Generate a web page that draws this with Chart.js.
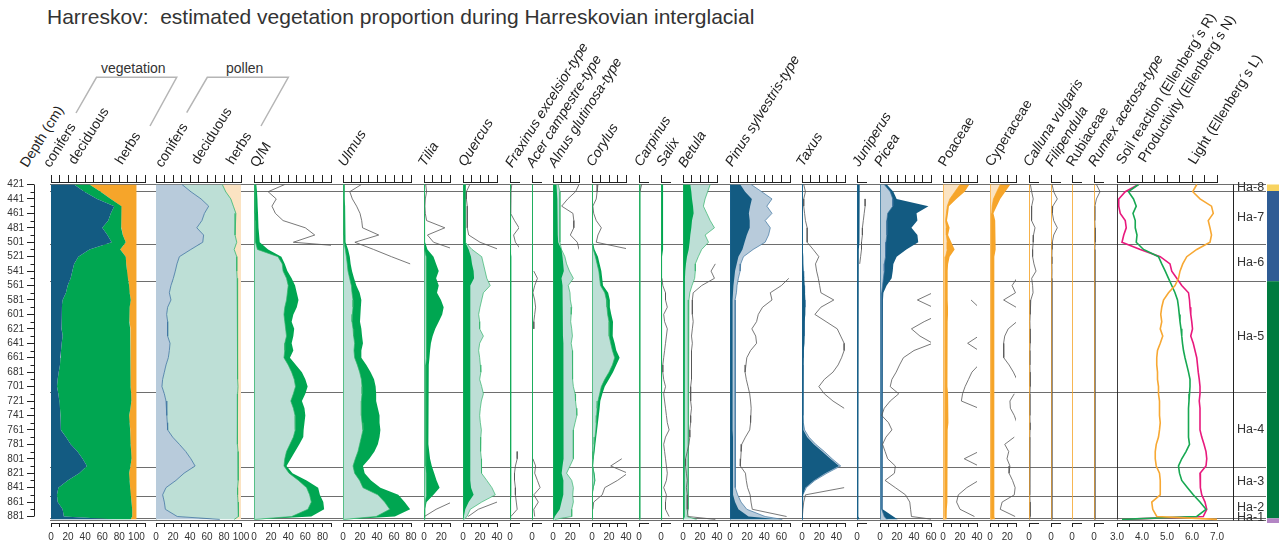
<!DOCTYPE html>
<html lang="en">
<head>
<meta charset="utf-8">
<title>Harreskov vegetation proportion</title>
<script src="https://cdn.jsdelivr.net/npm/chart.js@4.4.1/dist/chart.umd.min.js"></script>
<style>
  html, body { margin:0; padding:0; background:#fff; overflow:hidden; }
  #wrap { position:relative; width:1279px; height:545px; overflow:hidden;
          font-family:"Liberation Sans", Arial, Helvetica, sans-serif; color:#333; }
  #wrap canvas { position:absolute; }
  #title { position:absolute; left:47px; top:6px; font-size:21px; line-height:21px; white-space:pre; color:#333; }
  .hdr { position:absolute; font-size:14px; line-height:14px; white-space:nowrap; color:#222; transform-origin:0 0; }
  .it { font-style:italic; }
  .grp { position:absolute; font-size:14px; line-height:14px; color:#333; white-space:nowrap; }
  #brackets { position:absolute; left:0; top:0; }
</style>
</head>
<body>
<div id="wrap">
  <div id="title">Harreskov:  estimated vegetation proportion during Harreskovian interglacial</div>
  <svg id="brackets" width="300" height="140">
    <polyline points="76,113 96.5,77.3 176.7,77.3 150,126" fill="none" stroke="#b5b5b5" stroke-width="1.5"/>
    <polyline points="186.7,112.7 207.3,77.3 288.3,77.3 261,126" fill="none" stroke="#b5b5b5" stroke-width="1.5"/>
  </svg>
  <div class="grp" style="left:101px;top:61px">vegetation</div>
  <div class="grp" style="left:226px;top:61px">pollen</div>
</div>
<script>
// ---------------------------------------------------------------------------
// Sample depths (cm) and zonation
// ---------------------------------------------------------------------------
const DEPTH = [421,431,441,451,461,471,481,491,501,511,521,531,541,551,561,571,581,591,601,611,
               621,631,641,651,661,671,681,691,701,711,721,731,741,751,761,771,781,791,801,811,
               821,831,841,851,861,871,881,885];
const DEPTH_TICKS_MAJOR = [421,441,461,481,501,521,541,561,581,601,621,641,661,681,701,721,741,761,781,801,821,841,861,881];
const DEPTH_TICKS_MINOR = [431,451,471,491,511,531,551,571,591,611,631,651,671,691,711,731,751,771,791,811,831,851,871];
const ZONE_BOUNDS = [421, 430, 504, 555, 709, 813, 853, 883.5, 886.5];
const ZONE_NAMES  = ['Ha-8','Ha-7','Ha-6','Ha-5','Ha-4','Ha-3','Ha-2','Ha-1'];
const ZONE_LABEL_DEPTH = [425.5, 467, 529.5, 632, 761, 833, 868, 883];
const ZONE_BAR = [[421,430,'#f8d360'],[430,555,'#2f5c94'],[555,883.5,'#007b40'],[883.5,890,'#b385c4']];
const N = null;

// ---------------------------------------------------------------------------
// Estimated vegetation proportion (%)
// ---------------------------------------------------------------------------
const vegConifers = [27,39,54,74,70,67,60,66,71,45, 32,27,25,23,19.5,17.5,13.6,12.8,12.5,12,
  12.5,13.6,12.5,11.7,11,10.5,9,7.8,7,8.6, 9.7,10.5,11,11.3,11.7,17.5,23,31,37,42,
  33,19.5,8.6,7,7.8,13.6,15,78];
const vegDeciduous = [18,19,16,8.5,12,15,22.5,18,16.5,36, 55.5,61,64,67,71.9,74.5,79.8,79.2,78.9,80,
  80.1,79,80.1,81.3,82.4,82.9,84.4,85.6,86.4,85.2, 84.3,82.5,80.4,80.7,80.9,75.5,70.4,62.8,57.2,51,
  58.4,72.5,84,86.4,86.4,81.4,80,15];
const vegHerbs = [55,42,30,17.5,18,18,17.5,16,12.5,19, 12.5,12,11,10,8.6,8,6.6,8,8.6,8,
  7.4,7.4,7.4,7,6.6,6.6,6.6,6.6,6.6,6.2, 6,7,8.6,8,7.4,7,6.6,6.2,5.8,7,
  8.6,8,7.4,6.6,5.8,5,5,7];

// Pollen proportion (%)
const polConifers = [30.6,41,53,62,57,54,48,56,55,41, 27.5,24.7,22.7,20.4,17.6,15.7,17.6,13.7,12.5,13.7,
  13.7,13.7,16.5,15.7,14.5,11.8,9.8,7.8,7,9.8, 11.8,12.5,12.9,13.3,13.7,19.6,27.5,35,41,46,
  33,23.5,11.8,7.8,9.8,11,25,75];
const polDeciduous = [47.4,41,35,29,37,39,45,37,40,51, 67.5,70.3,72.3,75.1,78.4,80.3,78.4,82.3,83.5,82.3,
  82.3,82.3,79.5,80.3,81.5,84.2,86.2,88.2,89.5,86.2, 84.2,83,82.6,82.2,82.3,76.4,68.5,61.5,56,51,
  63.5,73,84.2,88.2,86.7,86,72,17];
const polHerbs = [22,18,12,9,6,7,7,7,5,8, 5,5,5,4.5,4,4,4,4,4,4,
  4,4,4,4,4,4,4,4,3.5,4, 4,4.5,4.5,4.5,4,4,4,3.5,3,3,
  3.5,3.5,4,4,3.5,3,3,8];

// ---------------------------------------------------------------------------
// Taxa: vegetation estimate (veg), pollen (pol), exaggerated curve (x)
// ---------------------------------------------------------------------------
const qmVeg = [2.7,3.5,4,4.3,4.7,5,5.5,6,6.7,16.5, 32,36,39,44,48,50,52,50,46,44,
  47,46,44,46,42,49,56,60,62.7,60, 56,59,60,59,58,57.6,53,48,43,38,
  45,61.5,75,77,81,82,67,2];
const qmPol = [1,1,1,1,1,1.2,1.5,1.8,2,4, 28,33,34,38,40,39,38,36,35,36,
  37,38,36,36,35,40,44,47,48.5,46, 43,46,48,48.5,48,46,42,38,36,35,
  41,52,61.5,65,67,63,44,1];
const qmX = [36,16.5,26,21,25,34,60,71,46,150, N,N,N,N,N,N,N,N,N,N,
  N,N,N,N,N,N,N,N,N,N, N,N,N,N,N,N,N,N,N,N, N,N,N,N,N,N,N,N];

const ulVeg = [2,2,2,2.5,2.5,3,3,3,3.5,6, 8,9,10.6,13,15.7,19.6,21.6,21,20,20,
  21.6,22.4,23.5,21.6,21.6,27.5,32.5,36.5,38.4,39, 39,41,43,43,44,43,41,37,31,23.5,
  25.5,33,44,65,72.5,79,61,2];
const ulPol = [0.8,0.8,0.8,0.8,0.8,0.8,1,1,1.2,2.7, 4,5,5.9,7.8,9.8,10.6,11.8,11.8,11,10.6,
  11.8,12.5,13.7,12.9,13.7,16.9,19.6,21.6,22.4,22.4, 21.6,21.6,21.6,22.4,23.5,21.6,19.6,17.6,14.5,11.8,
  13.7,19.6,23.5,41,49,55,39,1];
const ulX = [21.6,8,11,16,20,22,23,42,14,36, 57,79,N,N,N,N,N,N,N,N,
  N,N,N,N,N,N,N,N,N,N, N,N,N,N,N,N,N,N,N,N, N,N,N,N,N,N,N,N];

const tiVeg = [1.2,1.2,1.2,1.2,1.2,1.2,1.2,1.5,1.5,4, 11,14,17,14,17,15,19.6,22.7,21,17,
  13,10,8,7,6.3,5.5,5,5,5,5, 5,5,5,5,5.2,5.2,5.5,6,7,9,
  11.8,14.5,18,11,3,1.2,1.2,0.5];
const tiPol = [0.5,0.5,0.5,0.5,0.5,0.5,0.5,0.5,0.5,1, 2.5,3,3,3,3,3,3,3,3,3,
  3,3,2.5,2.5,2.5,2,2,2,2,2, 2,2,2,2,2,2,2,2,2,2,
  2.5,3,3,2.5,1.5,1,1,0.5];
const tiX = [2,3,1.5,1,1.5,3,24,4,11,35, N,N,N,N,N,N,N,N,N,N,
  N,N,N,N,N,N,N,N,N,N, N,N,N,N,N,N,N,N,N,N, N,N,N,N,32,14,0.5,N];

const quVeg = [2.7,2.7,2.7,2.7,2.7,2.7,2.7,3,3,6.7, 9.4,10.6,12.5,13,8.6,9,8.6,8.5,8.5,8.5,
  8.5,9,8.5,8.5,8.5,8.5,8.5,8.5,8.5,9, 8.5,8.5,8.5,8.5,8.5,8.5,8.5,8.5,8.5,8.5,
  8.5,9,9.5,12.5,6.7,2.7,1,0.5];
const quPol = [2.7,2.7,2.7,2.7,2.7,2.7,2.7,3,3,10.6, 22,24,26,28,32,24,22,20,18.4,19.6,
  19.6,24,19.6,18.4,19.6,20.4,21,19.6,22,24, 21.6,20.4,19.6,20.4,21.6,21,20.4,21,21.6,21.6,
  22,28,34,38,22,8.6,4.7,1];
const quX = [8,4,4,5,5,5,5,6.7,20,42, N,N,N,N,N,N,N,N,N,N,
  N,N,N,N,N,N,N,N,N,N, N,N,N,N,N,N,N,N,N,N, N,N,N,N,40,18,6,N];

const frVeg = [0.5,0.5,0.5,0.5,0.5,0.5,0.5,0.5,0.5,1, 1.5,1.5,1.8,2,1.8,1.5,1.5,1.5,1.5,1.5,
  1.5,1.5,1.5,1.5,1.5,1.5,1.5,1.5,1.5,1.2, 1.2,1.2,1.2,1.2,1.2,1.2,1.2,1.2,1.2,1.2,
  1.2,1.2,1.2,1.2,1,0.8,0.5,0.3];
const frPol = [0.3,0.3,0.3,0.3,0.3,0.3,0.3,0.3,0.3,0.5, 0.8,0.8,1,1,1,0.8,0.8,0.8,0.8,0.8,
  0.8,0.8,0.8,0.8,0.8,0.8,0.8,0.8,0.8,0.6, 0.6,0.6,0.6,0.6,0.6,0.6,0.6,0.6,0.6,0.6,
  0.6,0.6,0.6,0.6,0.5,0.4,0.3,0.2];
const frX = [2,1,0.5,0.5,1,5,10,4,6,12, N,N,N,N,N,N,N,N,N,N,
  N,N,N,N,N,N,N,N,N,N, N,N,N,N,N,N,N,8,8,6, 5,5,6,6,7,8,1,N];

const acVeg = [0.5,0.5,0.5,0.5,0.5,0.5,0.5,0.5,0.5,0.5, 0.8,0.8,0.8,0.8,0.8,0.8,0.8,0.8,0.8,0.8,
  0.8,0.8,0.8,0.8,0.8,0.8,0.8,0.8,0.8,0.8, 0.8,0.8,0.8,0.8,0.8,0.8,0.8,0.8,0.8,0.8,
  0.8,0.8,0.8,0.8,0.8,0.8,0.5,0.3];
const acPol = [0.3,0.3,0.3,0.3,0.3,0.3,0.3,0.3,0.3,0.3, 0.4,0.4,0.4,0.4,0.4,0.4,0.4,0.4,0.4,0.4,
  0.4,0.4,0.4,0.4,0.4,0.4,0.4,0.4,0.4,0.4, 0.4,0.4,0.4,0.4,0.4,0.4,0.4,0.4,0.4,0.4,
  0.4,0.4,0.4,0.4,0.4,0.4,0.3,0.2];
const acX = [N,N,N,N,N,N,N,N,N,N, N,N,2,6,3,1,3,4,3,2,
  2,N,N,N,N,N,N,N,N,N, N,N,N,N,N,N,N,N,1,4, 3,6,9,2,7,2,3,N];

const alVeg = [4,4.5,5,5.5,5.5,5.5,5.5,5.5,6,9.8, 11,11.8,12.5,9.8,11,11.5,11.5,11.5,11.5,11.5,
  11.5,11.5,12,12,12,12,12,12,12,12, 12.5,12.5,12.5,12.5,12.5,12.5,12,12,12,11,
  10,12,12,11.8,9.8,7.8,2,1];
const alPol = [6,8,8,8,8,8,8,8,8,9.8, 13.7,15.7,19,23.5,17.6,19.6,20,21.6,21,20.4,
  21.6,22.4,21,22.4,22,23,23,22.4,23.5,25.5, 26,27,27.5,25.5,23.5,23.5,23.5,23.5,23.5,19.6,
  15.7,21.6,23.5,22.8,23.5,21.6,21.6,2];
const alX = [30,26,17,10,23,24,24,20,28,30, N,N,N,N,N,N,N,N,N,N,
  N,N,N,N,N,N,N,N,N,N, N,N,N,N,N,N,N,N,N,N, N,N,N,N,N,N,N,N];

const coVeg = [1,1,1,1,1,1,1,1,1,3, 7,9,11,12,13,19,21,21,22.7,24.7,
  24,24.7,26.7,28.6,32.5,28.6,24.7,20,15,12.2, 9.8,9,8,7,6,5,4,3.1,2,1.2,
  3,4,2,0.5,0.5,0.5,0.5,0.3];
const coPol = [0.5,0.5,0.5,0.5,0.5,0.5,0.5,0.5,0.5,1.5, 4,6,8,9,10,15,17,17.6,18.4,20,
  20,20.4,22,24,26.7,24,20,15,11,9, 7,6,5.5,5,4.5,3.5,2.5,2,1.2,0.8,
  2,3,1.5,0.3,0.3,0.3,0.3,0.2];
const coX = [7,6,5,1,2,5,11,7,5,45, N,N,N,N,N,N,N,N,N,N,
  N,N,N,N,N,N,N,N,N,N, N,N,N,N,N,N,N,N,35,22, 42,30,15,12,2,1,N,N];

const caVeg = [0.3,0.3,0.3,0.3,0.3,0.3,0.3,0.3,0.3,0.3, 0.3,0.3,0.3,0.3,0.3,0.3,0.3,0.3,0.3,0.3,
  0.3,0.3,0.3,0.3,0.3,0.3,0.3,0.3,0.3,0.3, 0.3,0.3,0.3,0.3,0.3,0.3,0.3,0.3,0.3,0.3,
  0.3,0.3,0.3,0.3,0.3,0.3,0.3,0.3];
const caPol = [1,1,1,1,1,1,1,1,1,1, 1,1,1,1,1,1,1,1,1,1,
  1,1,1,1,1,1,1,1,1,1, 1,1,1,1,1,1,1,1,1,1,
  1,1,1,1,1,1,1,1];
const caX = [3,1,N,N,N,N,N,N,N,N, N,N,N,N,N,N,N,N,N,N,
  N,N,N,N,N,N,N,N,N,N, N,N,N,N,N,N,N,N,N,N, N,N,N,N,N,N,N,N];

const saVeg = [2.3,2.3,2.3,2.3,2.3,2.3,2.3,2.3,2.3,2.3, 1.2,1.2,1.2,1.2,1.2,1.2,1.2,1.2,1.2,1.2,
  1.2,1.2,1.2,1.2,1.2,1.2,1.2,1.2,1.2,1.2, 1.2,1.2,1.2,1.2,1.2,1.2,1.2,1.2,1.2,1.2,
  1.2,1.2,1.2,1.2,1.2,1.2,1.2,2];
const saPol = [0.5,0.5,0.5,0.5,0.5,0.5,0.5,0.5,0.5,0.5, 0.5,0.5,0.5,0.5,0.5,0.5,0.5,0.5,0.5,0.5,
  0.5,0.5,0.5,0.5,0.5,0.5,0.5,0.5,0.5,0.5, 0.5,0.5,0.5,0.5,0.5,0.5,0.5,0.5,0.5,0.5,
  0.5,0.5,0.5,0.5,0.5,0.5,0.5,0.5];
const saX = [N,N,N,N,N,N,N,N,N,N, N,N,N,1,2,5,5,7,3,4,
  7,6,5,4,3,2,2,3,5,3, 4,5,6,7,9,5,3,4,5,6, 7,6,3,6,5,5,9,N];

const beVeg = [8.6,9.8,10.6,11.8,12.5,10.6,9.8,8.6,7.8,6.7, 4.7,3.5,2.7,2.3,2,2,2,2,2,2,
  2,2,2,2,2,2,2,2,2,2, 2,2,2,2,2,2,2,2,2,2,
  2,2,2,2,2,2,2,1];
const bePol = [32,29,26,24,28,32,37,26,30,22, 18,14.5,14.5,13.7,10.6,8,7,6.5,6.5,6.5,
  6.5,6.5,6.5,6.5,6.5,6.5,6.5,6.5,6,6, 6,6,6,6,6,6,6,6,6,6,
  6,6,6,6,6,6,4.7,16];
const beX = [N,N,N,N,N,N,N,N,N,N, N,38,33,37,22,12,11,11,11,12,
  11,10,11,10,10,10,10,10,9,9, 9,10,9,9,8,8,7,5,3,3,
  4,5,4,5,5,5,6,38];

const piVeg = [12,17.6,25.5,23.5,22,23,23,19.6,17,14.5, 9.8,7.8,5.9,5,4,3.5,3,3,3,3,
  3,3,3,3,3,3,3,3,3,3, 3,3,3,3,3,3.5,3.5,3.5,3.5,3.5,
  3.5,3.5,3.5,4,5.9,9.8,21.6,61];
const piPol = [24.7,37,49,43,49,41,47,45,41,27, 15.7,12.5,11.8,9.8,8.2,7.5,5.9,5.9,5.9,5.9,
  5.9,5.9,5.9,5.9,5.9,5.9,5.9,5.9,5.9,5.9, 5.9,5.9,5.9,5.9,5.9,6.7,6.7,6.7,6.7,6.7,
  6.7,6.7,6.7,9,12.9,19.6,41,61];
const piX = [N,N,N,N,N,N,N,N,N,N, N,N,N,68.6,60,47,49,38,33,31,
  25.5,30,31,24,19.6,18.6,17.6,19,21,23, 24,24.7,24.3,24,23,18,13.7,13,12.5,12,
  18,19,20.5,23.5,24.5,26,66,N];

const txVeg = [1,1,1,1,1,1,1,1,1,1, 1.5,1.5,2,2.5,3,3.5,4,4,3.5,3,
  3,3,2.5,2,2,1.5,1.5,1.5,1.5,1.5, 1.5,1.5,1.5,1.5,2,5.9,13.7,23.5,33,43,
  27,13.7,3.9,1.2,0.8,0.8,0.8,0.5];
const txPol = [0.5,0.5,0.5,0.5,0.5,0.5,0.5,0.5,0.5,0.5, 1,1,1.5,2,2.5,3,3.5,3.5,3,2.5,
  2.5,2.5,2,1.5,1.5,1,1,1,1,1, 1,1,1,1.5,3,8,16,26,35,45,
  29,15,5,1,0.5,0.5,0.5,0.3];
const txX = [2,4,2,2,3,4,6,6,6,13, 19.6,15.7,17,19,20.5,22,37,22,15,28,
  41,45,49,49,46,42,36,26,19.6,26, 36,49,N,N,N,N,N,N,N,N,
  N,N,49,4,2,1,0.5,N];

const juVeg = [3,3,3,3,3,2.5,2.5,2.5,2.5,2, 1.5,1.5,1.5,1.5,1.5,1.5,1.5,1.5,1.5,1.5,
  1.5,1.5,1.5,1.5,1.5,1.5,1.5,1.5,1.5,1.5, 1.5,1.5,1.5,1.5,1.5,1.5,1.5,1.5,1.5,1.5,
  1.5,1.5,1.5,1.5,1.5,1.5,2,3];
const juPol = [0.5,0.5,0.5,0.5,0.5,0.5,0.5,0.5,0.5,0.5, 0.5,0.5,0.5,0.5,0.5,0.5,0.5,0.5,0.5,0.5,
  0.5,0.5,0.5,0.5,0.5,0.5,0.5,0.5,0.5,0.5, 0.5,0.5,0.5,0.5,0.5,0.5,0.5,0.5,0.5,0.5,
  0.5,0.5,0.5,0.5,0.5,0.5,0.5,0.5];
const juX = [N,N,9,9,8,7,6,6,5,5, 4,3,N,N,N,N,N,N,N,N,
  N,N,N,N,N,N,N,N,N,N, N,N,N,N,N,N,N,N,N,N, N,N,N,N,N,N,N,N];

const pcVeg = [8,15.7,19.6,57,43,44,37,44,45,31, 19.6,15.7,15,13.7,7.8,4,3.5,3.5,3.5,3.5,
  3.5,3,3,3,3,3,3,3,3,3, 3,3,3,3,3,3,3,3,3,3,
  3,3,3,3,3,3,15.7,21];
const pcPol = [5,12,15,15,9,8,8,8,7,7, 6,5,5,4,3,2,2,2,2,2,
  2,2,2,2,2,2,2,2,2,2, 2,2,2,2,2,2,2,2,2,2,
  2,2,2,2,2,2,5,8];
const pcX = [N,N,N,N,N,N,N,N,N,N, N,N,N,N,N,62,44,62,70,52,
  37,47,62,40,27.5,23,19,14,12,22, 12,5,2,10,14,7,3,6,9,18,
  17,6,18,30,35,36,37,62];

const poVeg = [31,25.5,15.7,7,6,4.7,7.8,6,9.8,13.7, 7.8,6,5.5,5.5,5.5,5.5,5.5,5.9,5.9,5.5,
  5.5,5,5,5,5,5,5.5,5.5,5.5,6, 6.5,6.5,6.5,6,5.5,5.5,5.5,5.5,5,5,
  5,5,5,5,5,4.5,4.5,4];
const poPol = [20,14,8,5,4,3,4,4,5,5, 3,3,2.5,2.5,2.5,2.5,2.5,2.5,2.5,2.5,
  2.5,2.5,2.5,2.5,2.5,2.5,2.5,2.5,2.5,2.5, 2.5,2.5,2.5,2.5,2.5,2.5,2.5,2.5,2.5,2.5,
  2.5,2.5,2.5,2.5,2.5,2.5,2.5,2];
const poX = [N,N,N,N,N,N,N,N,N,N, N,N,N,N,N,N,33,42,N,N,
  N,42,29,42,N,42,34,30,26,23, 21.6,42,N,N,N,N,N,42,25,42,
  N,42,28,18,16,20,37,N];

const cyVeg = [23.5,17.6,11.8,7.8,4,6,6.7,6.7,6.7,6, 5,5,5,5,5,5,5,5,5,5,
  5,5,5,5,5,5,5,5,5,5, 5,5,5,5,5,5,5,5,5,5,
  5,5,5,5,5,5,5,6];
const cyPol = [11.8,7.8,4,2.5,2,2,2,2,2,2, 2,2,2,2,2,2,2,2,2,2,
  2,2,2,2,2,2,2,2,2,2, 2,2,2,2,2,2,2,2,2,2,
  2,2,2,2,2,2,2,2];
const cyX = [N,N,N,N,N,N,N,N,N,N, N,N,N,31,25.5,29.4,15.7,30,N,31,
  21,17,15.7,15.7,16,22,27,31,N,28, 23,23.5,28,31,N,28,17,21.6,19.6,23,
  22,26,29,28,14,11.8,29,N];

const clVeg = [0.6,0.6,0.6,0.6,0.6,0.6,0.6,0.6,0.6,0.6, 0.6,0.6,0.6,0.6,0.6,0.6,0.6,0.6,0.6,0.6,
  0.6,0.6,0.6,0.6,0.6,0.6,0.6,0.6,0.6,0.6, 0.6,0.6,0.6,0.6,0.6,0.6,0.6,0.6,0.6,0.6,
  0.6,0.6,0.6,0.6,0.6,0.6,0.6,0.6];
const clX = [1.5,3,4.7,3,2.7,3,6.7,5,4.7,4, 4,5.5,7.8,3,4,4.5,2,1.5,1.2,1,
  1.2,1.5,1.2,1,1,1,1.2,1.5,1.2,1, 1,1,1,1.2,1.2,1,0.8,0.8,0.8,0.8,
  0.8,0.8,1,1,1.2,1.5,1.2,0.5];

const fiVeg = [0.5,0.5,0.5,0.5,0.5,0.5,0.5,0.5,0.5,0.5, 0.5,0.5,0.5,0.5,0.5,0.5,0.5,0.5,0.5,0.5,
  0.5,0.5,0.5,0.5,0.5,0.5,0.5,0.5,0.5,0.5, 0.5,0.5,0.5,0.5,0.5,0.5,0.5,0.5,0.5,0.5,
  0.5,0.5,0.5,0.5,0.5,0.5,0.5,0.5];
const fiX = [1.2,3,7,2,1.5,3,7,3,1.5,1.2, 1,1,1.2,1,1,1,1,1,1,1,
  1,1,1,1,1,1,1,1,1,1, 1,1,1,1,1,1,1,1,1,1,
  1,1,1,1,1,1,1,0.5];

const rbVeg = [0.5,0.5,0.5,0.5,0.5,0.5,0.5,0.5,0.5,0.5, 0.5,0.5,0.5,0.5,0.5,0.5,0.5,0.5,0.5,0.5,
  0.5,0.5,0.5,0.5,0.5,0.5,0.5,0.5,0.5,0.5, 0.5,0.5,0.5,0.5,0.5,0.5,0.5,0.5,0.5,0.5,
  0.5,0.5,0.5,0.5,0.5,0.5,0.5,0.5];

const rmVeg = [0.5,0.5,0.5,0.5,0.5,0.5,0.5,0.5,0.5,0.5, 0.5,0.5,0.5,0.5,0.5,0.5,0.5,0.5,0.5,0.5,
  0.5,0.5,0.5,0.5,0.5,0.5,0.5,0.5,0.5,0.5, 0.5,0.5,0.5,0.5,0.5,0.5,0.5,0.5,0.5,0.5,
  0.5,0.5,0.5,0.5,0.5,0.5,0.5,0.5];
const rmX = [2.7,6.7,2.7,1,0.8,1,1.2,1.5,1.2,1, 1,1,1,1,1,1,1,1,1,1,
  1,1,1,1,1,1,1,1,1,1, 1,1,1,1,1,1,1,1,1,1,
  1,1,1,1,1,1,1,1];

// Ellenberg indicator values
const ellR = [3.86,3.33,3.07,3.07,3.13,3.33,3.37,3.27,3.2,3.93, 4.73,5.12,5.19,5.39,5.59,5.86,5.9,5.92,5.95,5.99,
  6.02,5.95,6.05,6.12,6.19,6.22,6.25,6.29,6.32,6.32, 6.29,6.32,6.32,6.32,6.32,6.39,6.48,6.56,6.59,6.56,
  6.32,6.35,6.32,6.39,6.52,6.59,6.45,3.2];
const ellN = [3.86,3.46,3.66,3.77,3.64,3.73,3.73,3.8,3.77,4.06, 4.66,4.79,4.93,5.06,5.19,5.32,5.42,5.46,5.49,5.52,
  5.56,5.59,5.62,5.66,5.72,5.79,5.86,5.92,5.92,5.9, 5.88,5.86,5.86,5.86,5.86,5.86,5.9,5.76,5.59,5.46,
  5.5,5.59,5.82,6.05,6.32,6.56,6.19,3.2];
const ellL = [6.19,6.03,6.32,6.78,6.85,6.65,6.72,6.78,6.72,6.19, 5.79,5.63,5.52,5.46,5.32,5.06,4.86,4.79,4.75,4.79,
  4.73,4.83,4.73,4.62,4.59,4.59,4.62,4.62,4.66,4.66, 4.7,4.7,4.7,4.73,4.7,4.66,4.57,4.53,4.53,4.57,
  4.7,4.73,4.73,4.73,4.39,4.43,4.59,7.0];

// ---------------------------------------------------------------------------
// Colours
// ---------------------------------------------------------------------------
const C = {
  dkBlue:'#135b82', green:'#00a651', orange:'#f6a52a',
  ltBlue:'#b8cbdb', ltTeal:'#bddfd6', ltPeach:'#fbe3c2',
  blueLine:'#3f75a1', greenLine:'#33b56c', orangeLine:'#f6a52a',
  exag:'#575757', axis:'#222', zone:'#6e6e6e',
  ellR:'#e8197d', ellN:'#17a852', ellL:'#f7a833'
};
const GROUP = {
  tree:   { dark:C.green,  light:C.ltTeal,  line:C.greenLine,  base:'#1fae5c' },
  conif:  { dark:C.dkBlue, light:C.ltBlue,  line:C.blueLine,   base:'#1d6590' },
  herb:   { dark:C.orange, light:C.ltPeach, line:C.orangeLine, base:'#f6a52a' }
};

// ---------------------------------------------------------------------------
// Layout of the strip diagram
// ---------------------------------------------------------------------------
Chart.defaults.font.family = '"Liberation Sans", Arial, Helvetica, sans-serif';
Chart.defaults.color = '#333';
const wrap = document.getElementById('wrap');
const CAN_TOP = 170, CAN_H = 375, PAD_T = 5, TOP_AX = 7, BOT_AX = 22, PAD_X = 14;
const Y_MIN = 417.54, Y_MAX = 890.0;
const PCT = 0.85;   // px per percent

function addCanvas(left, width) {
  const c = document.createElement('canvas');
  c.width = width; c.height = CAN_H;
  c.style.left = left + 'px'; c.style.top = CAN_TOP + 'px';
  c.style.width = width + 'px'; c.style.height = CAN_H + 'px';
  wrap.appendChild(c);
  return c;
}
function pts(arr) { return arr.map((v, i) => ({ x: v, y: DEPTH[i] })); }
function edge(v) { return [{ x: v, y: DEPTH[0] }, { x: v, y: DEPTH[DEPTH.length - 1] }]; }

function tickList(min, max, step) {
  const t = [];
  for (let v = min; v <= max + 1e-9; v += step) t.push({ value: Math.round(v * 1000) / 1000 });
  return t;
}
function xAxis(pos, a) {
  const bottom = pos === 'bottom';
  return {
    type:'linear', position:pos, min:a.min, max:a.max, stacked:!!a.stacked,
    afterBuildTicks: s => { s.ticks = tickList(a.min, a.max, a.step); },
    afterFit: s => { s.height = bottom ? BOT_AX : TOP_AX; },
    border: { display:true, color:C.axis, width:1 },
    grid: { drawOnChartArea:false, drawTicks:true, tickLength: bottom ? 4 : 7, tickWidth:1, tickColor:C.axis },
    ticks: {
      display: bottom, autoSkip:false, maxRotation:0, minRotation:0, padding:4,
      font: { size:10 }, color:'#333',
      callback: v => {
        const k = (v - a.min) / a.label;
        return Math.abs(k - Math.round(k)) < 1e-6 ? v.toFixed(a.dec || 0) : '';
      }
    }
  };
}
function stripChart(x0, a, datasets, ppu) {
  const w = Math.round((a.max - a.min) * ppu);
  const cv = addCanvas(x0 - PAD_X, w + 2 * PAD_X);
  return new Chart(cv, {
    type:'line',
    data:{ datasets },
    options:{
      indexAxis:'y', responsive:false, animation:false, devicePixelRatio:1, events:[],
      layout:{ padding:{ left:PAD_X, right:PAD_X, top:PAD_T, bottom:0 } },
      plugins:{ legend:{ display:false }, tooltip:{ enabled:false } },
      elements:{ point:{ radius:0, hoverRadius:0 }, line:{ tension:0 } },
      scales:{
        x: xAxis('bottom', a), x2: xAxis('top', a),
        y: { type:'linear', reverse:true, min:Y_MIN, max:Y_MAX, display:false }
      }
    }
  });
}
const area = (arr, color, fill, extra) => Object.assign({
  data:pts(arr), xAxisID:'x', fill, backgroundColor:color,
  borderColor:'rgba(0,0,0,0)', borderWidth:0, pointRadius:0
}, extra || {});
const curve = (arr, color, width) => ({
  data:pts(arr), xAxisID:'x', fill:false, borderColor:color, borderWidth:width,
  pointRadius:0, spanGaps:false
});
const baseLine = (v, color, width) => ({
  data:edge(v), xAxisID:'x', fill:false, borderColor:color, borderWidth:width || 1.2, pointRadius:0
});

// ---------------------------------------------------------------------------
// Background: zone boundaries, zone names and zone colour bar
// ---------------------------------------------------------------------------
const zonePlugin = {
  id:'zones',
  afterDraw(chart) {
    const ctx = chart.ctx, ys = chart.scales.y;
    ctx.save();
    ctx.strokeStyle = C.zone; ctx.lineWidth = 1;
    ZONE_BOUNDS.forEach(d => {
      const y = Math.round(ys.getPixelForValue(d)) + 0.5;
      ctx.beginPath(); ctx.moveTo(50, y); ctx.lineTo(1266, y); ctx.stroke();
    });
    ctx.strokeStyle = '#222';
    ctx.beginPath();
    ctx.moveTo(1233.5, ys.getPixelForValue(ZONE_BOUNDS[0]));
    ctx.lineTo(1233.5, ys.getPixelForValue(ZONE_BOUNDS[ZONE_BOUNDS.length - 1]));
    ctx.stroke();
    ZONE_BAR.forEach(([a, b, col]) => {
      const y1 = ys.getPixelForValue(a), y2 = ys.getPixelForValue(b);
      ctx.fillStyle = col; ctx.fillRect(1267, y1, 12, y2 - y1);
    });
    ctx.fillStyle = '#333';
    ctx.font = '12.5px "Liberation Sans", Arial, sans-serif';
    ctx.textBaseline = 'middle';
    ZONE_NAMES.forEach((n, i) => ctx.fillText(n, 1237, ys.getPixelForValue(ZONE_LABEL_DEPTH[i])));
    ctx.restore();
  }
};
new Chart(addCanvas(0, 1279), {
  type:'line', data:{ datasets:[] },
  options:{
    responsive:false, animation:false, devicePixelRatio:1, events:[],
    layout:{ padding:{ left:0, right:0, top:PAD_T + TOP_AX, bottom:BOT_AX } },
    plugins:{ legend:{ display:false }, tooltip:{ enabled:false } },
    scales:{
      x:{ type:'linear', min:0, max:1, display:false },
      y:{ type:'linear', reverse:true, min:Y_MIN, max:Y_MAX, display:false }
    }
  },
  plugins:[zonePlugin]
});

// ---------------------------------------------------------------------------
// Depth axis
// ---------------------------------------------------------------------------
const depthAxisPlugin = {
  id:'depthAxis',
  afterDraw(chart) {
    const ctx = chart.ctx, ys = chart.scales.y, x = chart.chartArea.left + 0.5;
    ctx.save();
    ctx.strokeStyle = C.axis; ctx.lineWidth = 1;
    ctx.beginPath();
    ctx.moveTo(x, ys.getPixelForValue(DEPTH_TICKS_MAJOR[0]));
    ctx.lineTo(x, ys.getPixelForValue(DEPTH_TICKS_MAJOR[DEPTH_TICKS_MAJOR.length - 1]));
    ctx.stroke();
    DEPTH_TICKS_MINOR.forEach(d => {
      const y = Math.round(ys.getPixelForValue(d)) + 0.5;
      ctx.beginPath(); ctx.moveTo(x - 4, y); ctx.lineTo(x, y); ctx.stroke();
    });
    ctx.restore();
  }
};
new Chart(addCanvas(0, 40), {
  type:'line', data:{ datasets:[] },
  options:{
    responsive:false, animation:false, devicePixelRatio:1, events:[],
    layout:{ padding:{ left:0, right:0, top:PAD_T + TOP_AX, bottom:BOT_AX } },
    plugins:{ legend:{ display:false }, tooltip:{ enabled:false } },
    scales:{
      x:{ type:'linear', min:0, max:1, display:false },
      y:{
        type:'linear', position:'left', reverse:true, min:Y_MIN, max:Y_MAX,
        afterBuildTicks: s => { s.ticks = DEPTH_TICKS_MAJOR.map(v => ({ value:v })); },
        afterFit: s => { s.width = 34; },
        border:{ display:false },
        grid:{ drawOnChartArea:false, tickLength:7, tickColor:C.axis, tickWidth:1 },
        ticks:{ autoSkip:false, padding:3, font:{ size:10 }, color:'#333' }
      }
    }
  },
  plugins:[depthAxisPlugin]
});

// ---------------------------------------------------------------------------
// Vegetation and pollen proportions (stacked)
// ---------------------------------------------------------------------------
stripChart(51, { min:0, max:110, step:10, label:20, stacked:true }, [
  area(vegConifers, C.dkBlue, 'origin'),
  area(vegDeciduous, C.green, '-1'),
  area(vegHerbs, C.orange, '-1')
], PCT);

stripChart(156, { min:0, max:100, step:10, label:20, stacked:true }, [
  area(polConifers, C.ltBlue, 'origin', { borderColor:C.blueLine, borderWidth:0.8 }),
  area(polDeciduous, C.ltTeal, '-1', { borderColor:C.greenLine, borderWidth:0.8 }),
  area(polHerbs, C.ltPeach, '-1'),
  Object.assign(baseLine(0, '#5e9a8b', 1.2), { stack:'edge' })
], PCT);

// ---------------------------------------------------------------------------
// Individual taxa
// ---------------------------------------------------------------------------
const TAXA = [
  { x0:254,  max:90, g:'tree',  veg:qmVeg, pol:qmPol, ex:qmX, lightTop:true },
  { x0:343,  max:80, g:'tree',  veg:ulVeg, pol:ulPol, ex:ulX, lightTop:true },
  { x0:424,  max:30, g:'tree',  veg:tiVeg, pol:tiPol, ex:tiX, lightTop:true },
  { x0:463,  max:40, g:'tree',  veg:quVeg, pol:quPol, ex:quX, lightTop:false },
  { x0:510,  max:10, g:'tree',  veg:frVeg, pol:frPol, ex:frX, lightTop:false, step:20 },
  { x0:532,  max:10, g:'tree',  veg:acVeg, pol:acPol, ex:acX, lightTop:false, step:20 },
  { x0:553,  max:30, g:'tree',  veg:alVeg, pol:alPol, ex:alX, lightTop:false },
  { x0:592,  max:40, g:'tree',  veg:coVeg, pol:coPol, ex:coX, lightTop:true },
  { x0:639,  max:10, g:'tree',  veg:caVeg, pol:caPol, ex:caX, lightTop:false, step:20 },
  { x0:661,  max:10, g:'tree',  veg:saVeg, pol:saPol, ex:saX, lightTop:false, step:20 },
  { x0:683,  max:40, g:'tree',  veg:beVeg, pol:bePol, ex:beX, lightTop:false },
  { x0:730,  max:70, g:'conif', veg:piVeg, pol:piPol, ex:piX, lightTop:false },
  { x0:802,  max:50, g:'conif', veg:txVeg, pol:txPol, ex:txX, lightTop:false },
  { x0:857,  max:10, g:'conif', veg:juVeg, pol:juPol, ex:juX, lightTop:false, step:20 },
  { x0:880,  max:60, g:'conif', veg:pcVeg, pol:pcPol, ex:pcX, lightTop:true },
  { x0:943,  max:40, g:'herb',  veg:poVeg, pol:poPol, ex:poX, lightTop:true },
  { x0:990,  max:30, g:'herb',  veg:cyVeg, pol:cyPol, ex:cyX, lightTop:true },
  { x0:1029, max:10, g:'herb',  veg:clVeg, pol:null,  ex:clX, lightTop:false, step:20 },
  { x0:1051, max:10, g:'herb',  veg:fiVeg, pol:null,  ex:fiX, lightTop:false, step:20 },
  { x0:1072, max:10, g:'herb',  veg:rbVeg, pol:null,  ex:null, lightTop:false, step:20 },
  { x0:1094, max:10, g:'herb',  veg:rmVeg, pol:null,  ex:rmX, lightTop:false, step:20 }
];

TAXA.forEach(t => {
  const g = GROUP[t.g];
  const dark = area(t.veg, g.dark, 'origin');
  const light = t.pol ? area(t.pol, g.light, 'origin', { borderColor:g.line, borderWidth:0.7 }) : null;
  const ds = [baseLine(0, g.base, 1.3)];
  if (t.ex) ds.push(curve(t.ex, C.exag, 0.8));
  if (light) { if (t.lightTop) ds.push(light, dark); else ds.push(dark, light); }
  else ds.push(dark);
  stripChart(t.x0, { min:0, max:t.max, step:t.step || 10, label:20 }, ds, PCT);
});

// Ellenberg indicator values
stripChart(1117, { min:3, max:7, step:0.5, label:1, dec:1 }, [
  baseLine(3, '#222', 1),
  curve(ellL, C.ellL, 1.6),
  curve(ellN, C.ellN, 1.6),
  curve(ellR, C.ellR, 1.6)
], 25.1);

// ---------------------------------------------------------------------------
// Rotated column headers
// ---------------------------------------------------------------------------
const HEADERS = [
  ['Depth (cm)', 27, 168, false],
  ['conifers', 50, 168, false], ['deciduous', 75, 165, false], ['herbs', 122, 165, false],
  ['conifers', 162, 168, false], ['deciduous', 198, 165, false], ['herbs', 233, 165, false],
  ['Q/M', 257, 168, false], ['Ulmus', 345, 167, true], ['Tilia', 425, 167, true],
  ['Quercus', 465, 167, true], ['Fraxinus excelsior-type', 512, 168, true],
  ['Acer campestre-type', 533, 168, true], ['Alnus glutinosa-type', 555, 168, true],
  ['Corylus', 593, 167, true], ['Carpinus', 641, 167, true], ['Salix', 663, 167, true],
  ['Betula', 685, 168, true], ['Pinus sylvestris-type', 732, 167, true], ['Taxus', 803, 167, true],
  ['Juniperus', 859, 167, true], ['Picea', 881, 167, true], ['Poaceae', 945, 167, false],
  ['Cyperaceae', 992, 167, false], ['Calluna vulgaris', 1030, 167, true],
  ['Filipendula', 1052, 167, true], ['Rubiaceae', 1073, 167, false],
  ['Rumex acetosa-type', 1095, 167, true],
  ['Soil reaction (Ellenberg\u00b4s R)', 1123, 165, false],
  ['Productivity (Ellenberg\u00b4s N)', 1145, 163, false],
  ['Light (Ellenberg\u00b4s L)', 1195, 165, false]
];
HEADERS.forEach(([txt, x, y, it]) => {
  const d = document.createElement('div');
  d.className = 'hdr' + (it ? ' it' : '');
  d.textContent = txt;
  d.style.left = x + 'px'; d.style.top = y + 'px';
  d.style.transform = 'rotate(-58deg) translate(0,-11.6px)';
  wrap.appendChild(d);
});
</script>
</body>
</html>
